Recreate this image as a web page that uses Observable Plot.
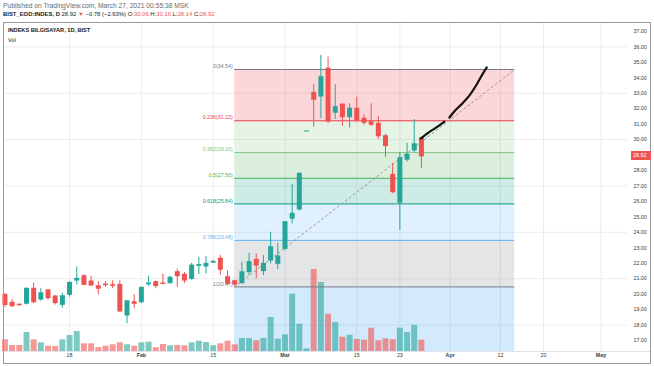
<!DOCTYPE html>
<html><head><meta charset="utf-8">
<script src="https://cdn.jsdelivr.net/npm/d3@7"></script>
<script src="https://cdn.jsdelivr.net/npm/@observablehq/plot@0.6"></script>
<style>
body{margin:0;background:#fff;font-family:"Liberation Sans",Arial,sans-serif;}
#wrap{position:relative;width:654px;height:366px;overflow:hidden;background:#fff;}
#wrap svg{position:absolute;left:0;top:0;}
.t{position:absolute;white-space:nowrap;z-index:5;line-height:1;}
.r{color:#ef5350;}
#frame{position:absolute;left:3px;top:22px;width:648px;height:342px;border:1px solid #9a9a9a;box-sizing:border-box;z-index:4;pointer-events:none;}
#tag{position:absolute;z-index:6;background:#ef5350;color:#fff;font-size:5.4px;line-height:9px;height:9px;padding:0 2px;left:631px;width:16px;}
</style></head><body>
<div id="wrap">
  <div class="t" style="left:3px;top:3px;font-size:6.7px;color:#6a6a6a">Published on TradingView.com, March 27, 2021 00:55:38 MSK</div>
  <div class="t" style="left:3px;top:12px;font-size:5.9px;color:#131722"><b>BIST_EOD:INDES, D</b> 28.92 <span class="r">▼</span> −0.78 (−2.63%) O:<span class="r">30.06</span> H:<span class="r">30.16</span> L:<span class="r">28.14</span> C:<span class="r">28.92</span></div>
  <div id="frame"></div>
  <div class="t" style="left:8px;top:28px;font-size:5.6px;font-weight:bold;color:#131722">INDEKS BILGISAYAR, 1D, BIST</div>
  <div class="t" style="left:8px;top:38px;font-size:5.6px;color:#131722">Vol</div>
</div>
<script>
// ---- data ----
const dates = [
 "2021-01-05","2021-01-06","2021-01-07","2021-01-08",
 "2021-01-11","2021-01-12","2021-01-13","2021-01-14","2021-01-15",
 "2021-01-18","2021-01-19","2021-01-20","2021-01-21","2021-01-22",
 "2021-01-25","2021-01-26","2021-01-27","2021-01-28","2021-01-29",
 "2021-02-01","2021-02-02","2021-02-03","2021-02-04","2021-02-05",
 "2021-02-08","2021-02-09","2021-02-10","2021-02-11","2021-02-12",
 "2021-02-15","2021-02-16","2021-02-17","2021-02-18","2021-02-19",
 "2021-02-22","2021-02-23","2021-02-24","2021-02-25","2021-02-26",
 "2021-03-01","2021-03-02","2021-03-03","2021-03-04","2021-03-05",
 "2021-03-08","2021-03-09","2021-03-10","2021-03-11","2021-03-12",
 "2021-03-15","2021-03-16","2021-03-17","2021-03-18","2021-03-19",
 "2021-03-22","2021-03-23","2021-03-24","2021-03-25","2021-03-26"];
const open  = [19.95,19.44,19.32,19.38,20.35,19.65,20.24,19.85,19.31,19.96,20.88,21.16,20.82,20.51,20.62,20.58,20.60,18.62,19.48,19.48,20.64,20.78,20.69,20.71,21.42,21.25,20.99,21.83,21.79,22.04,22.29,21.10,20.84,20.71,21.42,22.22,21.49,22.18,21.96,22.93,24.88,25.48,30.53,33.03,32.79,34.59,31.74,32.26,31.45,32.00,31.35,31.13,31.03,30.22,27.72,25.91,28.70,29.30,30.06];
const high  = [20.05,19.65,19.36,20.40,20.73,20.35,20.30,19.90,20.06,20.80,21.75,21.25,21.16,20.82,20.82,20.86,20.86,19.60,19.96,20.45,21.16,20.85,21.30,21.15,21.62,21.40,22.00,22.39,22.43,22.20,22.50,21.50,20.90,22.06,22.65,22.60,22.50,24.00,23.30,24.70,27.10,27.85,30.53,33.55,35.45,35.34,33.55,32.35,32.32,32.75,31.60,32.32,31.50,30.35,28.44,29.19,29.77,31.30,30.16];
const low   = [19.15,19.13,19.24,19.30,19.38,19.55,19.60,19.30,19.10,19.80,20.60,20.55,20.50,19.96,20.45,20.35,18.80,18.08,19.05,19.38,20.50,20.35,20.60,20.65,20.45,20.70,20.90,21.27,21.30,21.98,21.23,20.60,20.47,20.65,21.20,21.00,21.20,21.95,21.60,22.80,24.55,25.40,30.53,30.81,31.35,31.05,31.30,30.87,30.74,31.10,30.93,30.85,30.01,28.86,26.50,24.12,28.55,29.15,28.14];
const close = [19.30,19.22,19.28,20.35,19.48,20.06,19.74,19.42,19.87,20.73,20.99,20.60,20.56,20.35,20.58,20.54,18.88,19.54,19.38,20.41,20.69,20.52,20.66,21.06,21.16,20.88,21.85,21.88,21.96,22.09,21.58,20.67,20.62,21.42,22.07,21.85,21.96,23.04,22.44,24.66,25.20,27.79,30.53,32.58,34.04,31.17,32.10,31.45,32.00,31.24,31.09,30.96,30.22,29.58,26.60,28.80,29.02,29.70,28.92];
const volume = [11.7,6,6,19,11.7,8.7,5.3,5,11.7,16,20,7.7,7.7,4,5.3,6.7,8.7,6.7,5.3,8.7,9.3,3.7,7,5.7,6,5.7,8.7,10.3,9,5.7,7.7,10.3,6.7,13,13,10.7,13,34,12.3,16.7,57.3,27.3,2.7,82,69,37.3,29,14.3,16.3,12,11.3,23.3,10.7,12.7,11.7,23.3,19,26.3,11.3];

// time-axis labels (bar index on the trading-day scale)
const tickIdx    = [9,19,29,39,49,55,62,69,75,83];
const tickLabels = ["18","Feb","15","Mar","15","23","Apr","12","20","May"];
const tickMonth  = [false,true,false,true,false,false,true,false,false,true];

// Fibonacci retracement drawing (the 1.618 level lies below the visible range)
const fibStart = 32, fibEnd = 71;
const fibRatio = ["0","0.236","0.382","0.5","0.618","0.786","1","1.618"];
const fibPrice = [34.54,31.22,29.16,27.50,25.84,23.48,20.47,11.77];
const fibColor = ["#787b86","#f23645","#81c784","#4caf50","#089981","#64b5f6","#787b86","#2196f3"];

// hand-drawn projection stroke
const drawX   = [57.9,58.98,60.1,61.2,61.9,62.7,63.7,64.7,65.7,66.4,67.1];
const drawY   = [30.07,30.46,30.79,31.17,31.43,31.89,32.34,32.86,33.57,34.15,34.67];
const drawSeg = [0,0,0,0,1,1,1,1,1,1,1];

const priceTicks = d3.range(17, 38);
const gridTicks = [18,21,24,27,30,33,36];
const lastPrice = close[close.length-1];

// ---- build ----
const UP = "#26a69a", DN = "#ef5350";
const Y_DOMAIN = [16.29, 37.58];
const bars = dates.map((d,i)=>({i, date:d, o:open[i], h:high[i], l:low[i], c:close[i], v:volume[i], up: close[i]>=open[i]}));
const fibLines = fibRatio.map((r,k)=>({x1:fibStart, x2:fibEnd, price:fibPrice[k], color:fibColor[k], label:`${r}(${fibPrice[k].toFixed(2)})`}))
  .filter(d=>d.price>=Y_DOMAIN[0] && d.price<=Y_DOMAIN[1]);
const fibZones = fibPrice.slice(0,-1).map((p,k)=>({x1:fibStart, x2:fibEnd, y1:p, y2:fibPrice[k+1], color:fibColor[k+1]}));
const drawing = drawX.map((x,k)=>({x, y:drawY[k], seg:drawSeg[k]}));
const trend = [{x:fibStart, y:fibPrice[6]},{x:fibEnd, y:fibPrice[0]}];

const dims = {width:654, height:366, marginLeft:3, marginRight:27, marginTop:22, marginBottom:15};
const xs = {domain:[-0.2, 86.7]};
const FONT = "Liberation Sans, Arial, sans-serif";
const wrap = document.getElementById("wrap");
const first = wrap.firstChild;

// layer 1: background grid + fib zones
const p1 = Plot.plot({...dims, x:{...xs, axis:null}, y:{domain:Y_DOMAIN, axis:null}, color:{type:"identity"},
  style:{background:"transparent"},
  marks:[
    Plot.ruleY(gridTicks, {stroke:"#ececec"}),
    Plot.ruleX(tickIdx, {stroke:"#ececec"}),
    Plot.rect(fibZones, {x1:"x1", x2:"x2", y1:"y1", y2:"y2", fill:"color", fillOpacity:0.2, clip:true})
  ]});
// layer 2: volume
const p2 = Plot.plot({...dims, x:{...xs, axis:null}, y:{domain:[0,329], axis:null}, color:{type:"identity"},
  style:{background:"transparent"},
  marks:[
    Plot.ruleX(bars, {x:"i", y1:0, y2:"v", stroke:d=>d.up?UP:DN, strokeOpacity:0.6, strokeWidth:6})
  ]});
// layer 3: price
const p3 = Plot.plot({...dims, x:{...xs}, y:{domain:Y_DOMAIN}, color:{type:"identity"},
  style:{background:"transparent", fontFamily:FONT},
  marks:[
    Plot.ruleY(fibLines, {y:"price", x1:"x1", x2:"x2", stroke:"color", strokeWidth:1}),
    Plot.text(fibLines, {x:"x1", y:"price", text:"label", fill:"color", textAnchor:"end", dx:-2, dy:-3, fontSize:5.3}),
    Plot.line(trend, {x:"x", y:"y", stroke:"#9598a1", strokeWidth:1, strokeDasharray:"2,3"}),
    Plot.ruleX(bars, {x:"i", y1:"l", y2:"h", stroke:d=>d.up?UP:DN, strokeWidth:1}),
    Plot.ruleX(bars, {x:"i", y1:d=>Math.max(d.o,d.c), y2:d=>Math.min(d.o,d.c), stroke:d=>d.up?UP:DN, strokeWidth:5, insetTop:-0.5, insetBottom:-0.5}),
    Plot.line(drawing, {x:"x", y:"y", z:"seg", stroke:"#111", strokeWidth:2.2, curve:"catmull-rom", strokeLinecap:"round"}),
    Plot.axisY(priceTicks.filter(d=>Math.abs(d-lastPrice)>0.5), {anchor:"right", tickSize:0, tickPadding:6, tickFormat:d=>d.toFixed(2), fontSize:5.3, fill:"#3a3a3a", textAnchor:"start"}),
    Plot.axisX(tickIdx.filter((d,k)=>!tickMonth[k]), {anchor:"bottom", tickSize:0, tickPadding:2, tickFormat:d=>tickLabels[tickIdx.indexOf(d)], fontSize:5.3, fill:"#3a3a3a"}),
    Plot.axisX(tickIdx.filter((d,k)=>tickMonth[k]), {anchor:"bottom", tickSize:0, tickPadding:2, tickFormat:d=>tickLabels[tickIdx.indexOf(d)], fontSize:5.3, fontWeight:"bold", fill:"#3a3a3a"})
  ]});

wrap.insertBefore(p1, first);
wrap.insertBefore(p2, first);
wrap.insertBefore(p3, first);

// last-price tag on the price scale, placed with the plot's own y scale
const yPx = p3.scale("y").apply(lastPrice);
const tag = document.createElement("div");
tag.id = "tag";
tag.style.top = (yPx - 4.5) + "px";
tag.textContent = lastPrice.toFixed(2);
wrap.appendChild(tag);
// thin separator of the time pane
d3.select(p3).append("line").attr("x1",3).attr("x2",651).attr("y1",351.5).attr("y2",351.5).attr("stroke","#e0e3eb");
</script>
</body></html>
